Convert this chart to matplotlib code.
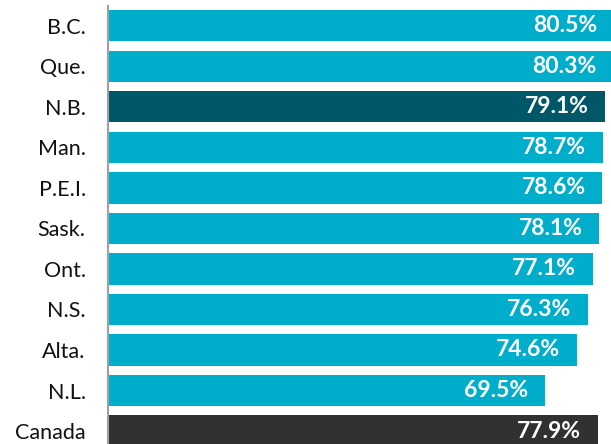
import matplotlib.pyplot as plt

provinces = ["B.C.", "Que.", "N.B.", "Man.", "P.E.I.", "Sask.", "Ont.", "N.S.", "Alta.", "N.L.", "Canada"]
rates = [80.5, 80.3, 79.1, 78.7, 78.6, 78.1, 77.1, 76.3, 74.6, 69.5, 77.9]

light = "#00AECB"
colors = [light] * len(provinces)
colors[provinces.index("N.B.")] = "#005767"
colors[provinces.index("Canada")] = "#323031"

plt.rcParams['font.family'] = ['Lato', 'DejaVu Sans']

fig = plt.figure(figsize=(6.11, 4.44), dpi=100)
ax = fig.add_axes([108 / 611, 0, 1 - 108 / 611, 1 - 6 / 444])

y = range(len(provinces))
ax.barh(y, rates, height=0.77, color=colors)

for i, v in enumerate(rates):
    ax.annotate(f"{v}%", xy=(v, i), xytext=(-12, 0), textcoords="offset points",
                ha="right", va="center", color="white", fontsize=16.5, fontweight="bold",
                annotation_clip=False)

ax.set_xlim(0, 80.0)
ax.set_ylim(10.32, -0.49)
ax.set_yticks(list(y))
ax.set_yticklabels(provinces, fontsize=15.5, color="#111111")
ax.tick_params(axis="y", length=0, pad=16)
ax.set_xticks([])
for side in ["top", "right", "bottom"]:
    ax.spines[side].set_visible(False)
ax.spines["left"].set_color("#A0A0A0")
ax.spines["left"].set_linewidth(1.5)

fig.savefig("out.png", dpi=100)
